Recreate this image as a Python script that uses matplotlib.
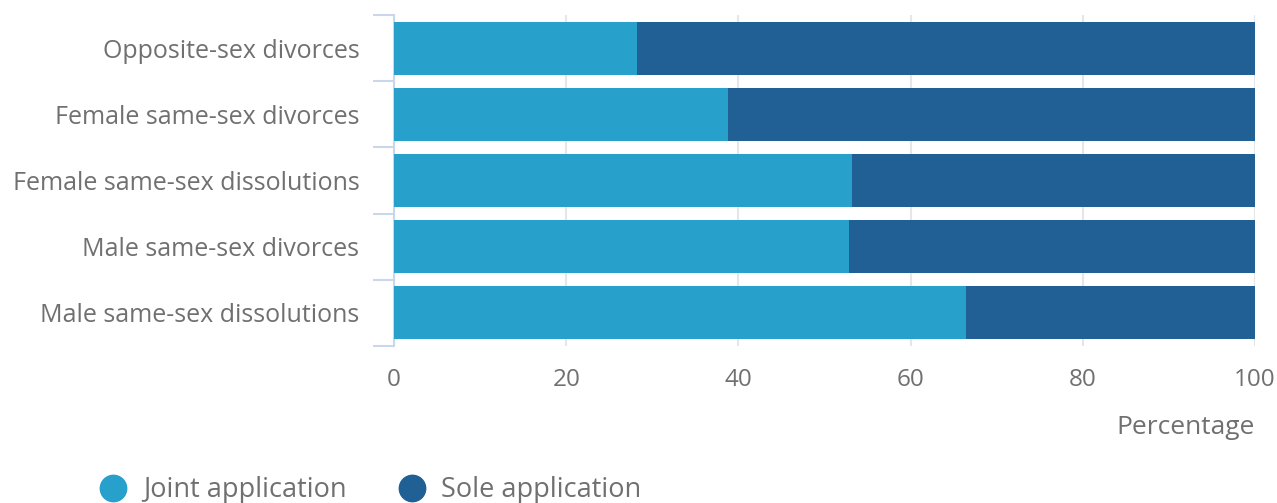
import numpy as np
import matplotlib.pyplot as plt
from matplotlib.lines import Line2D

categories = ["Opposite-sex divorces", "Female same-sex divorces",
              "Female same-sex dissolutions", "Male same-sex divorces",
              "Male same-sex dissolutions"]
joint = [28.2, 38.8, 53.2, 52.9, 66.4]
sole = [100 - v for v in joint]
x_ticks = [0, 20, 40, 60, 80, 100]

COL_JOINT = "#27a0cc"
COL_SOLE = "#206095"
COL_TEXT = "#707070"
COL_AXIS = "#ccd6eb"

plt.rcParams['font.family'] = ['Open Sans', 'DejaVu Sans']

fig = plt.figure(figsize=(12.77, 5.03), dpi=100)
ax = fig.add_axes([394 / 1277, 1 - 346 / 503, (1255 - 394) / 1277, (346 - 15) / 503])

y = np.arange(len(categories))
ax.barh(y, joint, height=0.8, color=COL_JOINT, zorder=3, label="Joint application")
ax.barh(y, sole, left=joint, height=0.8, color=COL_SOLE, zorder=3, label="Sole application")

ax.set_xlim(0, 100)
ax.set_ylim(len(categories) - 0.5, -0.5)
ax.set_xticks(x_ticks)
ax.set_yticks(y)
ax.set_yticklabels(categories)
ax.set_yticks(np.arange(len(categories) + 1) - 0.5, minor=True)

for s in ["top", "right", "bottom"]:
    ax.spines[s].set_visible(False)
ax.spines["left"].set_color(COL_AXIS)
ax.spines["left"].set_linewidth(1.5)

ax.grid(axis="x", color="#e6e6e6", linewidth=1.5, zorder=0)
ax.tick_params(axis="x", length=0, pad=16, labelsize=17.5, labelcolor=COL_TEXT)
ax.tick_params(axis="y", which="major", length=0, pad=25, labelsize=18, labelcolor=COL_TEXT)
ax.tick_params(axis="y", which="minor", length=15, width=1.5, color=COL_AXIS)

fig.text(1255 / 1277, 1 - 427 / 503, "Percentage", ha="right", va="center",
         fontsize=19, color=COL_TEXT)

handles = [Line2D([], [], marker="o", linestyle="", markersize=19, color=COL_JOINT),
           Line2D([], [], marker="o", linestyle="", markersize=19, color=COL_SOLE)]
fig.legend(handles, ["Joint application", "Sole application"], loc="center left",
           bbox_to_anchor=(86 / 1277, 1 - 490 / 503), ncol=2, frameon=False,
           fontsize=19.5, labelcolor=COL_TEXT, handletextpad=0.6, columnspacing=1.9,
           handlelength=1.0, borderpad=0)

fig.savefig("out.png", dpi=100)
